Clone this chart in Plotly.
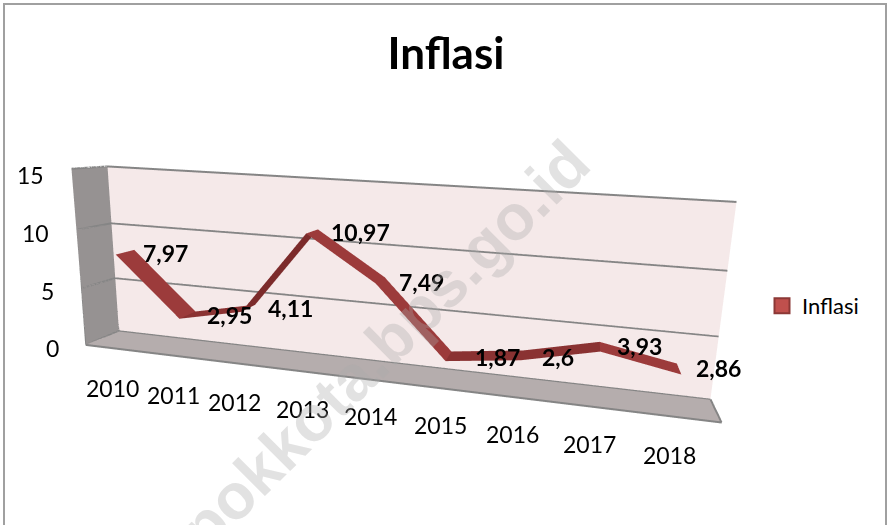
import plotly.graph_objects as go

years = ["2010", "2011", "2012", "2013", "2014", "2015", "2016", "2017", "2018"]
values = [7.97, 2.95, 4.11, 10.97, 7.49, 1.87, 2.6, 3.93, 2.86]
labels = ["7,97", "2,95", "4,11", "10,97", "7,49", "1,87", "2,6", "3,93", "2,86"]
zticks = [0, 5, 10, 15]
year_dx = [4, 5, 4, 6, 6, 4, 1, 0, -3]
year_dy = [-4, -3, -3, -2, 0, -1, 0, -1, -2]
label_dx = [2, 4, 4, 10, 3, 11, -2, 2, 1]
label_dy = [0, 1, 1, 0, -1, 0, -1, 2, 2]
ztick_dy = [0, 0, 0, -3]

front, back = .22, .78
X, Y, Z, I, J, K, fc = [], [], [], [], [], [], []
for i, v in enumerate(values):
    X += [i, i]
    Y += [front, back]
    Z += [v, v]
for k in range(len(values) - 1):
    a = 2 * k
    I += [a, a + 1]
    J += [a + 1, a + 3]
    K += [a + 2, a + 2]
    dv = values[k + 1] - values[k]
    col = "#9c3b3b" if dv < -.5 else ("#7c2b2b" if dv > 3 else "#8a3232")
    fc += [col, col]

fig = go.Figure()
grid = "#858585"


def line3d(xs, ys, zs, w=4):
    fig.add_trace(go.Scatter3d(x=xs, y=ys, z=zs, mode="lines", line=dict(color=grid, width=w),
                               hoverinfo="skip", showlegend=False))


for t in zticks:
    line3d([-.5, -.5, 8.5], [0, 1, 1], [t, t, t])
line3d([-.5, 8.5, 8.5], [0, 0, 1], [0, 0, 0])
line3d([-.5, -.5], [0, 0], [0, 15], 2)
line3d([-.5, -.5], [1, 1], [0, 15], 2)
fig.add_trace(go.Mesh3d(x=X, y=Y, z=Z, i=I, j=J, k=K, facecolor=fc, flatshading=True,
                        lighting=dict(ambient=1, diffuse=0, specular=0, roughness=1, fresnel=0),
                        hoverinfo="skip", showlegend=False))
fig.add_trace(go.Scatter3d(x=[None], y=[None], z=[None], mode="markers", name="Inflasi",
                           marker=dict(symbol="square", size=15, color="#c0504d",
                                       line=dict(color="#8c3836", width=2))))

fnt = dict(family="Lato", size=23, color="black")
ann = []
for i, y in enumerate(years):
    ann.append(dict(x=i, y=0, z=0, text=y, showarrow=False, xshift=-6 + year_dx[i], yshift=-36 + year_dy[i], font=fnt))
for n, t in enumerate(zticks):
    ann.append(dict(x=-.5, y=0, z=t, text=str(t), showarrow=False, xanchor="right", xshift=-25,
                    yshift=-3 + ztick_dy[n], font=fnt))
for i, l in enumerate(labels):
    ann.append(dict(x=i, y=.5, z=values[i], text="<b>" + l + "</b>", showarrow=False,
                    xshift=38 + label_dx[i], yshift=-1 + label_dy[i], font=fnt))

ax = dict(title="", showticklabels=False, ticks="", showgrid=False, zeroline=False, showspikes=False, showline=False)
fig.update_layout(
    template=None, width=888, height=525, margin=dict(l=0, r=0, t=0, b=0), paper_bgcolor="white",
    title=dict(text="<b>Inflasi</b>", x=446 / 888, y=1 - 54 / 525, xanchor="center", yanchor="middle",
               font=dict(family="Lato", size=44, color="black")),
    scene=dict(
        domain=dict(x=[0, 1], y=[0, 1]), aspectmode="manual",
        aspectratio=dict(x=5.0, y=0.395, z=1.462),
        camera=dict(eye=dict(x=1.433, y=-4.514, z=1.137), center=dict(x=0.311, y=0.867, z=-0.006),
                    up=dict(x=-1.040, y=4.619, z=1)),
        xaxis=dict(ax, range=[-.5, 8.5], showbackground=True, backgroundcolor="#969292"),
        yaxis=dict(ax, range=[0, 1], showbackground=True, backgroundcolor="#f5e9e9"),
        zaxis=dict(ax, range=[0, 15], showbackground=True, backgroundcolor="#b5adad"),
        annotations=ann),
    annotations=[dict(text="<b>depokkota.bps.go.id</b>", x=358 / 888, y=1 - 372 / 525, xref="paper", yref="paper",
                      showarrow=False, textangle=-45, xanchor="center", yanchor="middle",
                      font=dict(family="Liberation Sans", size=64, color="rgba(170,170,170,0.34)"))],
    shapes=[dict(type="rect", xref="paper", yref="paper", x0=4 / 888, x1=886 / 888, y0=-.05, y1=1 - 4 / 525,
                 line=dict(color="#a0a0a0", width=2))],
    legend=dict(x=762 / 888, y=1 - 306 / 525, yanchor="middle", font=dict(family="Lato", size=22, color="black")),
    showlegend=True,
)
fig.write_html("out.html", post_script="document.body.style.margin='0';", config=dict(displayModeBar=False))
